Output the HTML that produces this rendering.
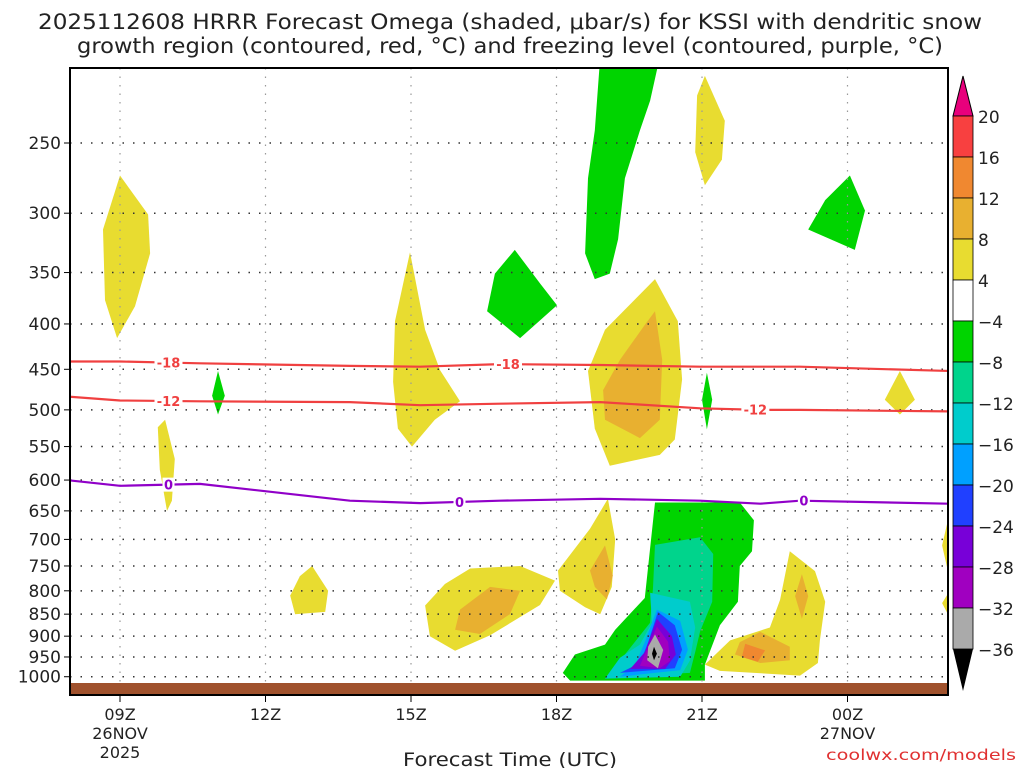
<!DOCTYPE html>
<html><head><meta charset="utf-8">
<style>
body{margin:0;background:#fff;font-family:"Liberation Sans","DejaVu Sans",sans-serif;}
svg text{font-family:"DejaVu Sans","Liberation Sans",sans-serif;}
</style></head>
<body>
<svg id="chart" width="1024" height="768" viewBox="0 0 1024 768" xmlns="http://www.w3.org/2000/svg">
<text x="510" y="29" font-size="21" text-anchor="middle" fill="#222" textLength="944" lengthAdjust="spacingAndGlyphs">2025112608 HRRR Forecast Omega (shaded, μbar/s) for KSSI with dendritic snow</text>
<text x="510" y="53" font-size="21" text-anchor="middle" fill="#222" textLength="866" lengthAdjust="spacingAndGlyphs">growth region (contoured, red, °C) and freezing level (contoured, purple, °C)</text>
<defs><clipPath id="pc"><rect x="70" y="68" width="878" height="627"/></clipPath></defs>
<g id="fills" clip-path="url(#pc)"></g>
<g id="grid"></g>
<g id="lines" clip-path="url(#pc)"></g>
<rect x="70" y="683" width="878" height="12" fill="#a0522d"/>
<rect x="70" y="68" width="878" height="627" fill="none" stroke="#000" stroke-width="2"/>
<g id="axes"></g>
<text x="510" y="766" font-size="19" text-anchor="middle" fill="#222" textLength="214" lengthAdjust="spacingAndGlyphs">Forecast Time (UTC)</text>
<text x="1016" y="760" font-size="15" text-anchor="end" fill="#e03030" textLength="190" lengthAdjust="spacingAndGlyphs">coolwx.com/models</text>
<g id="cbar"></g>
</svg>
<script>
const NS="http://www.w3.org/2000/svg";
const pTicks=[250,300,350,400,450,500,550,600,650,700,750,800,850,900,950,1000];
const hTicks=[0,3,6,9,12,15];
const hLabels=[["09Z","26NOV","2025"],["12Z"],["15Z"],["18Z"],["21Z"],["00Z","27NOV"]];
const cbLevels=["20","16","12","8","4","-4","-8","-12","-16","-20","-24","-28","-32","-36"];
const cbColors=["#f84040","#f08830","#e8b030","#e8dc30","#ffffff","#00d400","#00d48c","#00cccc","#00a0ff","#2040ff","#7800d8","#a000c0","#aaaaaa"];
const Y="#e8dc30",O="#e8b030",O2="#f08830",G="#00d400",T="#00d48c",C="#00cccc",LB="#00a0ff",B="#2040ff",P="#7800d8",M="#a000c0",GR="#aaaaaa",K="#000";
// blobs: [color, [[hour since 09Z, pressure hPa], ...]]
const blobs=[
[Y,[[0,272],[0.58,301],[0.62,333],[0.31,382],[-0.06,415],[-0.31,376],[-0.35,313]]],
[Y,[[0.93,513],[1.13,568],[1.07,633],[0.97,650],[0.82,584],[0.78,523]]],
[G,[[2.02,452],[2.16,482],[2.02,506],[1.9,482]]],
[Y,[[3.96,750],[4.29,800],[4.23,845],[3.61,850],[3.51,810],[3.71,770]]],
[Y,[[5.98,332],[6.29,406],[6.6,451],[7.01,489],[6.49,513],[6.02,550],[5.73,525],[5.63,465],[5.67,397]]],
[Y,[[7.22,755],[8.25,750],[8.97,779],[8.66,830],[7.63,898],[6.91,935],[6.39,900],[6.29,831],[6.7,786]]],
[O,[[7.63,792],[8.25,800],[8.04,850],[7.42,895],[6.91,885],[7.01,840]]],
[G,[[8.14,330],[8.66,360],[9.01,381],[8.25,415],[7.57,387],[7.73,351]]],
[G,[[9.9,200],[11.13,200],[10.93,224],[10.72,242],[10.41,274],[10.27,321],[10.1,351],[9.79,356],[9.59,333],[9.65,274],[9.79,242]]],
[Y,[[12.06,210],[12.47,236],[12.41,261],[12.06,279],[11.86,256],[11.9,221]]],
[G,[[15.05,272],[15.36,298],[15.15,330],[14.19,313],[14.54,290]]],
[Y,[[11.03,356],[11.5,397],[11.59,462],[11.44,540],[11.13,562],[10.1,578],[9.79,525],[9.65,452],[10.0,406]]],
[O,[[11.03,387],[11.18,439],[11.13,513],[10.72,538],[10.0,513],[9.96,475],[10.31,439],[10.82,401]]],
[G,[[12.1,454],[12.21,487],[12.1,526],[12.0,487]]],
[Y,[[16.08,452],[16.39,487],[16.08,506],[15.77,487]]],
[Y,[[10.06,630],[10.21,700],[10.14,792],[9.9,850],[9.59,835],[9.07,800],[9.03,759],[9.69,681]]],
[O,[[10.0,711],[10.16,769],[10.04,818],[9.79,792],[9.69,759]]],
[G,[[11.03,636],[12.78,636],[13.07,666],[13.03,722],[12.78,750],[12.74,823],[12.37,875],[12.06,969],[12.06,1010],[9.28,1010],[9.13,990],[9.38,944],[10.0,920],[10.21,885],[10.82,815]]],
[T,[[11.03,710],[11.96,696],[12.23,727],[12.21,823],[11.96,889],[11.86,938],[11.75,990],[10.1,1000],[10.41,944],[10.93,869],[10.99,794]]],
[C,[[10.93,804],[11.75,823],[11.86,880],[11.75,959],[11.55,1000],[10.0,1005],[10.31,952],[10.72,920],[10.97,869]]],
[LB,[[11.07,840],[11.55,865],[11.71,932],[11.55,983],[10.31,1000],[10.62,970],[10.82,914]]],
[B,[[11.09,845],[11.44,875],[11.59,932],[11.44,978],[10.31,990],[10.72,965],[10.89,914]]],
[P,[[11.07,860],[11.38,900],[11.46,944],[11.24,980],[10.52,980],[10.82,938]]],
[M,[[11.07,878],[11.3,913],[11.34,960],[11.13,978],[10.72,972],[10.89,925]]],
[GR,[[11.03,896],[11.2,933],[11.09,978],[10.87,958],[10.89,925]]],
[K,[[11.01,925],[11.07,942],[11.01,958],[10.97,942]]],
[Y,[[13.81,722],[14.33,760],[14.54,823],[14.43,910],[14.39,965],[14.02,997],[12.37,985],[12.06,969],[12.58,910],[13.4,880],[13.61,819]]],
[O,[[13.2,890],[13.81,925],[13.81,958],[13.2,965],[12.68,944],[12.78,914]]],
[O,[[14.06,766],[14.19,811],[14.06,860],[13.92,811]]],
[O2,[[12.89,918],[13.3,934],[13.15,962],[12.82,950]]],
[Y,[[17.3,650],[17.07,666],[16.95,711],[17.07,760],[17.07,806],[16.95,826],[17.07,850],[17.3,860]]]
];
const lineHours=[-1.1,0,1.65,4.74,6.19,7.84,9.9,11.96,13.2,14.02,17.1];
const tMinus18=[441,441,443,446,447,444,445,447,447,447,452];
const tMinus12=[483,488,489,490,494,492,490,498,500,500,502];
const tZero=[600,609,606,633,637,633,630,633,638,633,638];
const lineLabels=[["-18",tMinus18,[1.0,8.0],"#f04040"],["-12",tMinus12,[1.0,13.1],"#f04040"],["0",tZero,[1.0,7.0,14.1],"#9000c8"]];
const X=h=>120+48.5*h;
const Yp=p=>143+385*Math.log(p/250);
function mk(tag,attrs,parent){const e=document.createElementNS(NS,tag);for(const k in attrs)e.setAttribute(k,attrs[k]);parent.appendChild(e);return e;}
const fills=document.getElementById('fills');
blobs.forEach((b,i)=>{
 const pts=b[1].map(q=>X(q[0]).toFixed(1)+","+Yp(q[1]).toFixed(1)).join(" ");
 const e=mk('polygon',{points:pts,fill:b[0],'stroke-linejoin':'round'},fills);
 
 
});
const grid=document.getElementById('grid');
pTicks.forEach(p=>{
 const l=mk('line',{x1:70,x2:948,y1:Yp(p),y2:Yp(p),stroke:'#333','stroke-dasharray':'1.5,9','stroke-width':1.5},grid);
 
 
});
hTicks.forEach(h=>{
 const l=mk('line',{x1:X(h),x2:X(h),y1:68,y2:695,stroke:'#999','stroke-dasharray':'1.5,7','stroke-width':1.2},grid);
 
 
});
const lines=document.getElementById('lines');
lineLabels.forEach(L=>{
 const d=lineHours.map((h,i)=>(i?'L':'M')+X(h).toFixed(1)+','+Yp(L[1][i]).toFixed(1)).join(' ');
 const pth=mk('path',{d:d,fill:'none',stroke:L[3],'stroke-width':2.2},lines);
 
 
 L[2].forEach(h=>{
  let i=0;while(i<lineHours.length-2&&lineHours[i+1]<h)i++;
  const f=(h-lineHours[i])/(lineHours[i+1]-lineHours[i]);
  const yy=Yp(L[1][i]+(L[1][i+1]-L[1][i])*f);
  const w=L[0].length*8+4;
  mk('rect',{x:X(h)-w/2,y:yy-7,width:w,height:14,fill:'#fff'},lines);
  const t=mk('text',{x:X(h),y:yy+5,'font-size':13,'font-weight':'bold','text-anchor':'middle',fill:L[3]},lines);
  t.textContent=L[0];
  
  
 });
});
const axes=document.getElementById('axes');
pTicks.forEach(p=>{
 mk('line',{x1:64,x2:70,y1:Yp(p),y2:Yp(p),stroke:'#000'},axes);
 const t=mk('text',{x:61,y:Yp(p)+6,'font-size':17,'text-anchor':'end',fill:'#222'},axes);
 t.textContent=p;
 
 
});
hTicks.forEach((h,i)=>{
 mk('line',{x1:X(h),x2:X(h),y1:695,y2:702,stroke:'#000'},axes);
 hLabels[i].forEach((s,j)=>{
  const t=mk('text',{x:X(h),y:720+j*19,'font-size':16,'text-anchor':'middle',fill:'#222'},axes);
  t.textContent=s;
  
  
 });
});
const cb=document.getElementById('cbar');
const cbX=953,cbW=20,cbTop=116,cbSeg=41;
mk('polygon',{points:`${cbX},${cbTop} ${cbX+cbW},${cbTop} ${cbX+cbW/2},${cbTop-40}`,fill:'#e8007c',stroke:'#000'},cb);
cbColors.forEach((c,i)=>{
 const r=mk('rect',{x:cbX,y:cbTop+i*cbSeg,width:cbW,height:cbSeg,fill:c,stroke:'#000','stroke-width':0.8},cb);
 
 
});
const cbBot=cbTop+cbColors.length*cbSeg;
mk('polygon',{points:`${cbX},${cbBot} ${cbX+cbW},${cbBot} ${cbX+cbW/2},${cbBot+42}`,fill:'#000'},cb);
cbLevels.forEach((s,i)=>{
 const t=mk('text',{x:978,y:cbTop+i*cbSeg+7,'font-size':17,fill:'#222'},cb);
 t.textContent=s.replace('-','−');
 
 
});
</script>
</body></html>
